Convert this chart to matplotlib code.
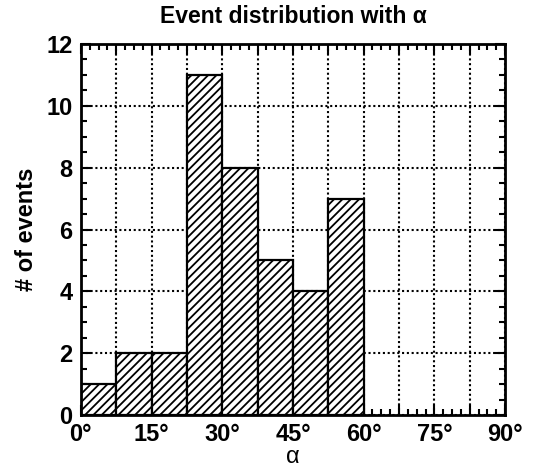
import numpy as np
import matplotlib.pyplot as plt
from matplotlib.ticker import MultipleLocator

# histogram of events vs alpha (deg), bin width 7.5
bin_edges = [0, 7.5, 15, 22.5, 30, 37.5, 45, 52.5, 60]
counts = [1, 2, 2, 11, 8, 5, 4, 7]
label_ticks = [0, 15, 30, 45, 60, 75, 90]
label_text = ['0°', '15°', '30°', '45°', '60°', '75°', '90°']

plt.rcParams['font.family'] = ['Liberation Sans', 'DejaVu Sans']
plt.rcParams['hatch.linewidth'] = 1.3

fig = plt.figure(figsize=(5.39, 4.68), dpi=100)
ax = fig.add_axes([0.150, 0.113, 0.787, 0.793])

lefts = np.array(bin_edges[:-1])
widths = np.diff(bin_edges)
ax.bar(lefts, counts, width=widths, align='edge', facecolor='white',
       edgecolor='black', hatch='////', linewidth=1.6, zorder=3)

ax.set_xlim(0, 90)
ax.set_ylim(0, 12)

# major ticks every 7.5 deg (gridlines), labels only every 15 deg
major_x = np.arange(0, 90.1, 7.5)
ax.set_xticks(major_x)
ax.set_xticklabels([label_text[label_ticks.index(v)] if v in label_ticks else ''
                    for v in major_x])
ax.xaxis.set_minor_locator(MultipleLocator(7.5 / 4))
ax.yaxis.set_major_locator(MultipleLocator(2))
ax.yaxis.set_minor_locator(MultipleLocator(0.5))

ax.grid(True, which='major', color='black', linestyle=(0, (1, 1.3)),
        linewidth=1.5, zorder=1)
ax.set_axisbelow(True)

ax.tick_params(which='both', direction='in', top=True, right=True,
               labelsize=17, width=1.5)
ax.tick_params(which='major', length=7, pad=6)
ax.tick_params(which='minor', length=4)
for lab in ax.get_xticklabels() + ax.get_yticklabels():
    lab.set_fontweight('bold')
for s in ax.spines.values():
    s.set_linewidth(2)
    s.set_zorder(4)

ax.set_title('Event distribution with α', fontsize=16.5, fontweight='bold', pad=15)
ax.set_ylabel('# of events', fontsize=17, fontweight='bold', labelpad=6)
ax.set_xlabel('α', fontsize=17, labelpad=0)

fig.savefig('out.png', dpi=100)
plt.close(fig)
